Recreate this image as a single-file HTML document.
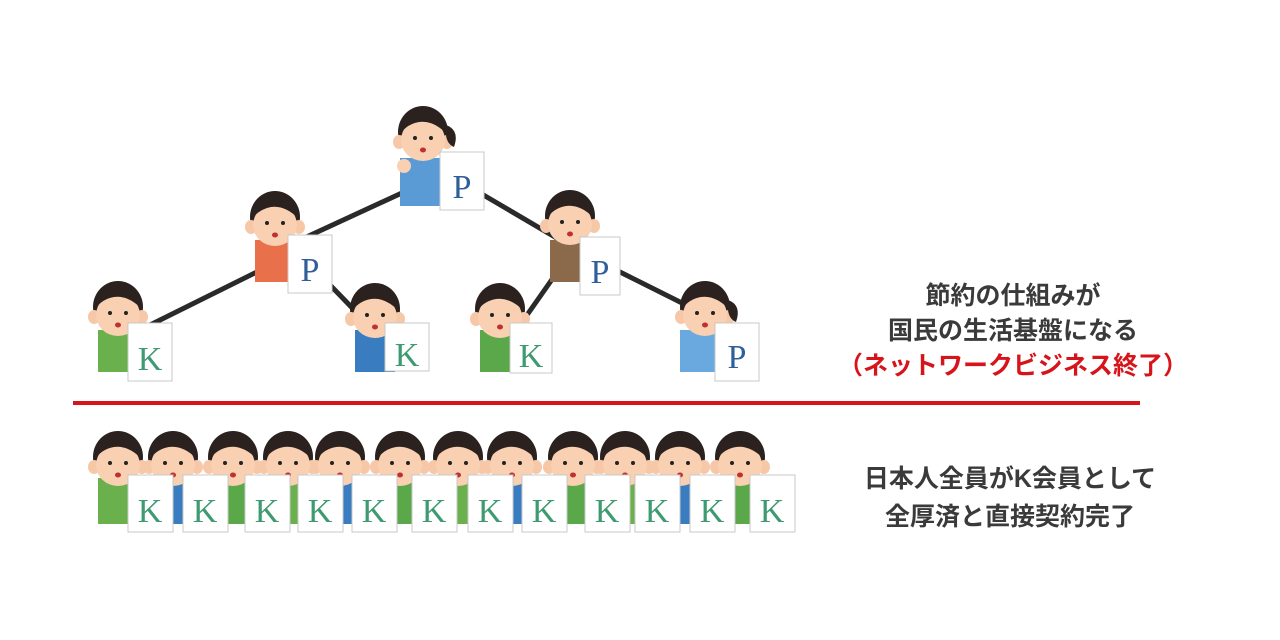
<!DOCTYPE html>
<html><head><meta charset="utf-8"><style>
html,body{margin:0;padding:0;background:#fff;width:1280px;height:640px;overflow:hidden}
svg{display:block}
.t{font-family:"Liberation Sans","Noto Sans CJK JP",sans-serif;font-weight:bold;font-size:25px;fill:#3a3a3a;text-anchor:middle}
.L{font-family:"Liberation Serif","Noto Serif CJK SC",serif;font-size:34px;text-anchor:middle}
</style></head><body>
<svg width="1280" height="640" viewBox="0 0 1280 640" xmlns="http://www.w3.org/2000/svg">
<defs>
<symbol id="hd" overflow="visible">
<ellipse cx="0" cy="2" rx="25" ry="26" fill="#2b2220"/>
<ellipse cx="-24" cy="12" rx="6" ry="7" fill="#f6c8a8"/>
<ellipse cx="24" cy="12" rx="6" ry="7" fill="#f6c8a8"/>
<ellipse cx="0" cy="10" rx="22" ry="21" fill="#f9d0b2"/>
<path d="M-23,4 Q-20,-22 0,-22 Q22,-22 24,4 Q10,-10 -4,-8 Q-16,-6 -23,4Z" fill="#2b2220"/>
<circle cx="-8" cy="8" r="2" fill="#222"/><circle cx="8" cy="8" r="2" fill="#222"/>
<ellipse cx="0" cy="20" rx="3" ry="2.5" fill="#c03030"/>
</symbol>
</defs>
<g stroke="#2a2a2a" stroke-width="5" stroke-linecap="round">
<line x1="150" y1="325" x2="285" y2="258"/>
<line x1="300" y1="240" x2="430" y2="180"/>
<line x1="330" y1="285" x2="362" y2="318"/>
<line x1="480" y1="193" x2="560" y2="240"/>
<line x1="520" y1="325" x2="560" y2="268"/>
<line x1="612" y1="268" x2="700" y2="312"/>
</g>
<g>
<path d="M400,158 h46 v48 h-46z" fill="#5b9bd5"/><use href="#hd" x="423" y="130"/>
<circle cx="404" cy="166" r="7" fill="#f9d0b2"/>
<path d="M446,125 q14,5 8,22 q-10,-4 -8,-22z" fill="#2b2220"/>
</g>
<g><path d="M255,240 h40 v42 h-40z" fill="#e8704a"/><use href="#hd" x="275" y="215"/></g>
<g><path d="M550,240 h40 v42 h-40z" fill="#8a6a4a"/><use href="#hd" x="570" y="214"/></g>
<g><path d="M98,330 h40 v42 h-40z" fill="#6ab04c"/><use href="#hd" x="118" y="305"/></g>
<g><path d="M355,330 h40 v42 h-40z" fill="#3a7cc0"/><use href="#hd" x="375" y="307"/></g>
<g><path d="M480,330 h40 v42 h-40z" fill="#5aa84a"/><use href="#hd" x="500" y="307"/></g>
<g><path d="M680,330 h40 v42 h-40z" fill="#6aa8e0"/><use href="#hd" x="705" y="305"/>
<path d="M728,300 q14,5 8,22 q-10,-4 -8,-22z" fill="#2b2220"/></g>
<g fill="#fff" stroke="#c8c8c8" stroke-width="1">
<rect x="440" y="152" width="44" height="58"/>
<rect x="288" y="235" width="44" height="58"/>
<rect x="580" y="237" width="40" height="58"/>
<rect x="128" y="323" width="44" height="58"/>
<rect x="385" y="323" width="44" height="48"/>
<rect x="510" y="323" width="42" height="50"/>
<rect x="715" y="323" width="44" height="58"/>
</g>
<g class="L" fill="#2f5f9a">
<text x="462" y="198">P</text><text x="310" y="281">P</text><text x="600" y="283">P</text><text x="737" y="368">P</text>
</g>
<g class="L" fill="#3f9a72">
<text x="150" y="370">K</text><text x="407" y="366">K</text><text x="531" y="367">K</text>
</g>
<rect x="73" y="401" width="1067" height="4" fill="#d7141a"/>
<g>
<path d="M98,478 h40 v46 h-40z" fill="#6ab04c"/><use href="#hd" x="118" y="455"/>
<path d="M153,478 h40 v46 h-40z" fill="#3a7cc0"/><use href="#hd" x="173" y="455"/>
<path d="M213,478 h40 v46 h-40z" fill="#5aa84a"/><use href="#hd" x="233" y="455"/>
<path d="M268,478 h40 v46 h-40z" fill="#6ab04c"/><use href="#hd" x="288" y="455"/>
<path d="M320,478 h40 v46 h-40z" fill="#3a7cc0"/><use href="#hd" x="340" y="455"/>
<path d="M380,478 h40 v46 h-40z" fill="#5aa84a"/><use href="#hd" x="400" y="455"/>
<path d="M438,478 h40 v46 h-40z" fill="#6ab04c"/><use href="#hd" x="458" y="455"/>
<path d="M492,478 h40 v46 h-40z" fill="#3a7cc0"/><use href="#hd" x="512" y="455"/>
<path d="M553,478 h40 v46 h-40z" fill="#5aa84a"/><use href="#hd" x="573" y="455"/>
<path d="M605,478 h40 v46 h-40z" fill="#6ab04c"/><use href="#hd" x="625" y="455"/>
<path d="M660,478 h40 v46 h-40z" fill="#3a7cc0"/><use href="#hd" x="680" y="455"/>
<path d="M720,478 h40 v46 h-40z" fill="#5aa84a"/><use href="#hd" x="740" y="455"/>
</g>
<g fill="#fff" stroke="#c8c8c8" stroke-width="1">
<rect x="128" y="475" width="45" height="57"/><rect x="183" y="475" width="45" height="57"/>
<rect x="245" y="475" width="45" height="57"/><rect x="298" y="475" width="45" height="57"/>
<rect x="352" y="475" width="45" height="57"/><rect x="412" y="475" width="45" height="57"/>
<rect x="468" y="475" width="45" height="57"/><rect x="522" y="475" width="45" height="57"/>
<rect x="585" y="475" width="45" height="57"/><rect x="635" y="475" width="45" height="57"/>
<rect x="690" y="475" width="45" height="57"/><rect x="750" y="475" width="45" height="57"/>
</g>
<g class="L" fill="#3f9a72">
<text x="150" y="522">K</text><text x="205" y="522">K</text><text x="267" y="522">K</text><text x="320" y="522">K</text>
<text x="374" y="522">K</text><text x="434" y="522">K</text><text x="490" y="522">K</text><text x="544" y="522">K</text>
<text x="607" y="522">K</text><text x="657" y="522">K</text><text x="712" y="522">K</text><text x="772" y="522">K</text>
</g>
<text class="t" x="1013" y="304">節約の仕組みが</text>
<text class="t" x="1013" y="339">国民の生活基盤になる</text>
<text class="t" x="1013" y="374" style="fill:#d7141a">（ネットワークビジネス終了）</text>
<text class="t" x="1010" y="487">日本人全員がK会員として</text>
<text class="t" x="1010" y="525">全厚済と直接契約完了</text>
</svg>
</body></html>
